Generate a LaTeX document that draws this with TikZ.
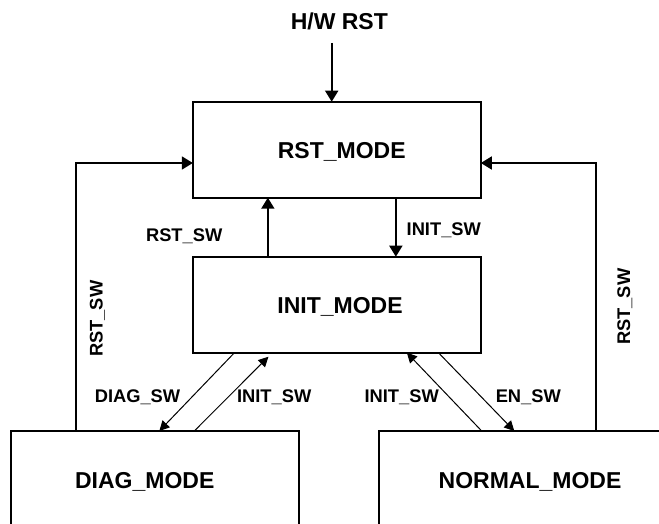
\documentclass[tikz,border=0pt]{standalone}
\usepackage{fontspec}
\setmainfont{Liberation Sans}
\usetikzlibrary{arrows.meta}
\tikzset{
  box/.style={draw, line width=1.8pt, rectangle, minimum width=288pt, minimum height=96pt, inner sep=0pt, outer sep=0pt},
  big/.style={font=\bfseries\fontsize{23}{26}\selectfont, anchor=base, inner sep=0pt},
  small/.style={font=\bfseries\fontsize{18.3}{21}\selectfont, anchor=base, inner sep=0pt},
  thick arr/.style={line width=1.8pt, -{Triangle[length=11pt,width=13pt]}},
  thin arr/.style={line width=1pt, -{Triangle[length=10pt,width=10pt]}},
  fb/.style={line width=1.8pt, -{Triangle[length=11pt,width=13pt]}}
}
\begin{document}
\begin{tikzpicture}[x=1pt,y=-1pt]
\useasboundingbox (0,0) rectangle (659,524);
\clip (0,0) rectangle (659,524);
% boxes
\node[box] (rst) at (336.85,149.7) {};
\node[box] (init) at (336.85,304.7) {};
\node[box, anchor=north west] (diag) at (11,431) {};
\node[box, anchor=north west] (normal) at (379.3,431) {};
% box texts
\node[big] (rstt) at (341.7,158.3) {RST\_MODE};
\node[big] (initt) at (340,313.3) {INIT\_MODE};
\node[big] (diagt) at (144.7,488.3) {DIAG\_MODE};
\node[big] (normalt) at (530,488.3) {NORMAL\_MODE};
% H/W RST
\node[big] (hw) at (339.3,30) {H/W RST};
\coordinate (hwtail) at (331.7,43);
\draw[thick arr] (hwtail) -- (hwtail |- rst.north);
% RST <-> INIT
\draw[thick arr] ([xshift=75pt]init.north west) -- ([xshift=75pt]rst.south west);
\draw[thick arr] ([xshift=203pt]rst.south west) -- ([xshift=203pt]init.north west);
\node[small] (l1) at (184.2,241.7) {RST\_SW};
\node[small] (l2) at (443.8,235) {INIT\_SW};
% feedback lines
\draw[fb] ([xshift=65pt]diag.north west) |- ([yshift=-13.3pt]rst.west);
\draw[fb] ([xshift=216.7pt]normal.north west) |- ([yshift=-13.3pt]rst.east);
\node[small, rotate=90] (l3) at (102.7,318.8) {RST\_SW};
\node[small, rotate=90] (l4) at (630,306.7) {RST\_SW};
% diagonals
\draw[thin arr] ([xshift=41.6pt]init.south west) -- ([xshift=148.3pt]diag.north west);
\draw[thin arr] ([xshift=183.3pt]diag.north west) -- ([xshift=75.6pt,yshift=-4pt]init.south west);
\draw[thin arr] ([xshift=102.4pt]normal.north west) -- ([xshift=214pt]init.south west);
\draw[thin arr] ([xshift=245.6pt]init.south west) -- ([xshift=135pt]normal.north west);
\node[small] (l5) at (137.5,402.7) {DIAG\_SW};
\node[small] (l6) at (274.2,402.7) {INIT\_SW};
\node[small] (l7) at (401.7,402.7) {INIT\_SW};
\node[small] (l8) at (528.3,402.7) {EN\_SW};
\end{tikzpicture}
\end{document}
